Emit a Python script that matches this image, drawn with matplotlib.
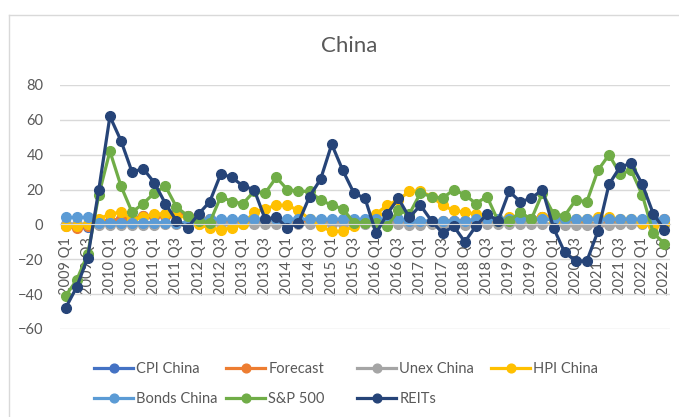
import matplotlib
matplotlib.use('Agg')
import matplotlib.pyplot as plt
from matplotlib.lines import Line2D

plt.rcParams['font.family'] = ['Lato', 'DejaVu Sans']

# quarterly, 2009 Q1 .. 2022 Q3
quarters = ['%d Q%d' % (y, q) for y in range(2009, 2023) for q in range(1, 5)][:55]

cpi_china = [-0.6, -1.5, -1.3, 0.7, 2.2, 2.9, 3.5, 4.7, 5.0, 5.4, 6.3,
             4.6, 3.8, 2.9, 1.9, 2.1, 2.4, 2.4, 2.8, 2.9, 2.3, 2.2,
             2.0, 1.5, 1.2, 1.4, 1.7, 1.5, 2.1, 2.1, 1.7, 2.2, 1.4,
             1.4, 1.6, 1.8, 2.2, 1.8, 2.3, 2.2, 1.8, 2.6, 2.9, 4.3,
             5.0, 2.7, 2.3, 0.1, 0.0, 1.1, 0.8, 1.8, 1.1, 2.2, 2.7]
forecast = [-1, -2, -1, 1, 2, 3, 3, 5, 5, 5, 6,
            5, 4, 3, 2, 2, 2, 2, 3, 3, 2, 2,
            2, 2, 1, 1, 2, 2, 2, 2, 2, 2, 1,
            1, 2, 2, 2, 2, 2, 2, 2, 3, 3, 4,
            5, 3, 2, 0, 0, 1, 1, 2, 1, 2, 3]
unex_china = [0.3, 0.0, 0.0, -0.1, -0.1, -0.1, -0.1, -0.1, -0.1, 0.0, 0.0,
              0.0, 0.0, 0.0, 0.0, 0.0, 0.0, 0.0, 0.0, 0.0, 0.0, 0.0,
              0.0, 0.0, 0.0, 0.0, 0.0, 0.0, 0.0, 0.0, 0.0, -0.1, -0.1,
              0.0, -0.1, -0.1, -0.1, -0.2, 0.0, 0.0, 0.0, 0.0, 0.0, 0.0,
              0.6, -0.2, -0.3, -0.3, 0.1, -0.1, 0.0, 0.0, 0.3, 0.4, -0.3]
hpi_china = [-1, -1, 0, 3, 6, 7, 3, 4, 6, 6, 5,
             4, 0, -2, -3, -2, 0, 7, 9, 11, 11, 8,
             3, -1, -4, -4, -1, 2, 6, 11, 14, 19, 19,
             16, 11, 8, 7, 6, 4, 3, 4, 3, 3, 4,
             2, 3, 3, 3, 4, 4, 3, 3, 1, -1, 1]
bonds_china = [4, 4, 4, 1, 1, 1, 1, 1, 1, 1, 1,
               1, 3, 3, 3, 3, 3, 3, 3, 3, 3, 3,
               3, 3, 3, 3, 3, 3, 3, 3, 3, 2, 2,
               2, 2, 2, 2, 3, 3, 3, 3, 3, 3, 3,
               3, 3, 3, 3, 3, 3, 3, 3, 3, 3, 3]
sp500 = [-41, -32, -17, 17, 42, 22, 7, 12, 18, 22, 10,
         5, 2, 1, 16, 13, 12, 19, 18, 27, 20, 19,
         19, 14, 11, 9, 1, 1, 1, -1, 8, 6, 18, 16,
         15, 20, 17, 12, 16, 2, 2, 7, 3, 18, 6,
         5, 14, 13, 31, 40, 29, 31, 17, -5, -11]
reits = [-48, -36, -19, 20, 62, 48, 30, 32, 24, 12, 2,
         -2, 6, 13, 29, 27, 22, 20, 3, 4, -2, 1,
         16, 26, 46, 31, 18, 15, -5, 6, 15, 4, 11,
         2, -5, -1, -10, -1, 6, 2, 19, 13, 15, 20,
         -2, -16, -21, -21, -4, 23, 33, 35, 23, 6, -3]

series = [
    ('CPI China', cpi_china, '#4472C4'),
    ('Forecast', forecast, '#ED7D31'),
    ('Unex China', unex_china, '#A5A5A5'),
    ('HPI China', hpi_china, '#FFC000'),
    ('Bonds China', bonds_china, '#5B9BD5'),
    ('S&P 500', sp500, '#70AD47'),
    ('REITs', reits, '#264478'),
]

W, H = 679, 417
fig = plt.figure(figsize=(W / 100, H / 100), dpi=100)
ax = fig.add_axes([60 / W, 1 - 329 / H, 610 / W, 244 / H])

# category axis crosses at zero, labels hang from there
for s in ['top', 'right', 'left']:
    ax.spines[s].set_visible(False)
ax.spines['bottom'].set_position(('data', 0))
ax.spines['bottom'].set_color('#d9d9d9')

x = list(range(len(quarters)))
handles = {}
for name, vals, color in series:
    ln, = ax.plot(x, vals, color=color, lw=2.3, marker='o', ms=7,
                  label=name, clip_on=False)
    handles[name] = ln

ax.set_xlim(-0.5, len(quarters) - 0.5)
ax.set_ylim(-60, 80)
ax.set_yticks(range(-60, 81, 20))
ax.set_xticks(x[::2])
ax.set_xticklabels(quarters[::2])

ax.grid(axis='y', color='#d9d9d9', lw=1)
ax.set_axisbelow(True)
ax.tick_params(axis='x', length=0, pad=9, labelsize=10.5, labelcolor='#595959',
               labelrotation=90)
ax.tick_params(axis='y', length=0, pad=12, labelsize=10.5, labelcolor='#595959')

fig.text(349 / W, 1 - 46 / H, 'China', ha='center', va='center',
         fontsize=16, color='#595959')

# legend laid out in fixed-width columns like Excel
legend_cols = [(94, ['CPI China', 'Bonds China']),
               (226, ['Forecast', 'S&P 500']),
               (357, ['Unex China', 'REITs']),
               (491, ['HPI China'])]
for xpos, names in legend_cols:
    leg = fig.legend([handles[n] for n in names], names, loc='upper left',
                     bbox_to_anchor=(xpos / W, 1 - 362 / H), frameon=False,
                     borderpad=0, borderaxespad=0, handlelength=2.7,
                     handletextpad=0.2, labelspacing=1.1, fontsize=10.5,
                     markerscale=0.9)
    for t in leg.get_texts():
        t.set_color('#595959')

# chart area border (only top and left visible in the crop)
fig.add_artist(Line2D([9 / W, 1], [1 - 15 / H] * 2, transform=fig.transFigure,
                      color='#d9d9d9', lw=1))
fig.add_artist(Line2D([9 / W] * 2, [0, 1 - 15 / H], transform=fig.transFigure,
                      color='#d9d9d9', lw=1))

fig.savefig('out.png', dpi=100)
